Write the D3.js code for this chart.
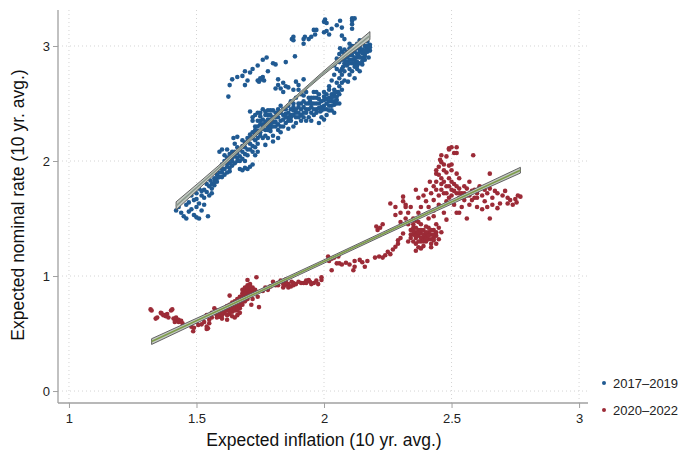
<!DOCTYPE html>
<html><head><meta charset="utf-8">
<script src="https://cdn.jsdelivr.net/npm/d3@7/dist/d3.min.js"></script>
<style>body{margin:0;background:#fff}svg{display:block}text{font-family:"Liberation Sans",Arial,sans-serif}</style>
</head><body><svg id="c" width="684" height="450"></svg>
<script>
const seriesNames = ["2017\u20132019", "2020\u20132022"];
const xTicks = [1, 1.5, 2, 2.5, 3];
const yTicks = [0, 1, 2, 3];
const xTickLabels = ["1", "1.5", "2", "2.5", "3"];
const yTickLabels = ["0", "1", "2", "3"];

const blue = [
[1.42,1.57],[1.43,1.6],[1.44,1.55],[1.45,1.52],[1.46,1.5],[1.47,1.56],[1.46,1.62],[1.48,1.58],[1.49,1.53],[1.5,1.51],[1.51,1.5],[1.5,1.6],[1.49,1.66],[1.51,1.63],[1.52,1.57],[1.53,1.62],[1.545,1.52],[1.52,1.7],[1.53,1.68],[1.54,1.73],[1.5,1.72],[1.51,1.76],[1.48,1.7],[1.55,1.78],[1.56,1.76],[1.54,1.8],[1.53,1.75],[1.555,1.83],[1.57,1.79],[1.55,1.7],[1.47,1.64],[1.5,1.67],[1.52,1.74],[1.56,1.72],[1.58,1.82],
[1.57,1.85],[1.58,1.88],[1.59,1.86],[1.6,1.9],[1.61,1.93],[1.6,1.97],[1.62,1.95],[1.63,1.91],[1.63,1.98],[1.64,2.0],[1.62,2.03],[1.59,2.08],[1.6,2.1],[1.62,2.1],[1.63,2.06],[1.65,2.04],[1.66,2.0],[1.67,1.93],[1.68,1.92],[1.69,1.94],[1.7,1.93],[1.71,1.95],[1.72,1.97],[1.67,2.04],[1.68,2.08],[1.66,2.12],[1.645,2.2],[1.66,2.21],[1.68,2.18],[1.69,2.12],[1.7,2.05],[1.71,2.1],[1.7,2.17],[1.72,2.13],[1.73,2.12],[1.74,2.15],[1.72,2.2],[1.71,2.23],[1.65,2.15],[1.64,2.08],[1.61,2.0],[1.66,2.07],[1.69,2.0],[1.73,2.05],[1.74,2.08],
[1.73,2.23],[1.74,2.26],[1.75,2.22],[1.76,2.28],[1.73,2.3],[1.75,2.32],[1.77,2.27],[1.78,2.3],[1.79,2.32],[1.76,2.36],[1.75,2.39],[1.71,2.43],[1.72,2.38],[1.74,2.42],[1.77,2.4],[1.78,2.36],[1.8,2.34],[1.81,2.3],[1.82,2.27],[1.83,2.25],[1.8,2.22],[1.78,2.2],[1.79,2.4],[1.81,2.38],[1.82,2.42],[1.83,2.35],[1.84,2.3],[1.85,2.33],[1.84,2.4],[1.85,2.45],[1.83,2.48],[1.82,2.45],[1.86,2.38],[1.87,2.35],[1.86,2.28],[1.79,2.26],[1.76,2.2],[1.77,2.14],[1.8,2.17],[1.82,2.2],[1.74,2.35],[1.76,2.45],[1.8,2.44],[1.78,2.44],
[1.87,2.4],[1.88,2.44],[1.89,2.42],[1.88,2.5],[1.9,2.47],[1.91,2.5],[1.9,2.38],[1.92,2.42],[1.93,2.45],[1.92,2.52],[1.94,2.5],[1.945,2.52],[1.92,2.57],[1.93,2.6],[1.95,2.55],[1.96,2.4],[1.97,2.45],[1.95,2.47],[1.96,2.5],[1.98,2.5],[1.985,2.43],[1.99,2.47],[1.97,2.55],[1.98,2.58],[2.0,2.53],[2.0,2.6],[1.99,2.38],[1.95,2.35],[1.94,2.38],[1.91,2.35],[1.89,2.33],[1.88,2.3],[1.86,2.48],[1.87,2.52],[1.89,2.55],[1.91,2.58],[1.9,2.62],[1.96,2.6],[1.93,2.35],[2.0,2.45],[2.01,2.4],[2.02,2.48],[2.01,2.54],[2.0,2.36],[1.98,2.33],[1.97,2.6],
[2.01,2.5],[2.02,2.55],[2.03,2.52],[2.04,2.49],[2.03,2.58],[2.04,2.56],[2.05,2.53],[2.02,2.62],[2.04,2.62],[2.05,2.6],[2.056,2.6],[2.06,2.58],[2.02,2.65],[2.03,2.7],[2.05,2.68],[2.06,2.72],[2.063,2.78],[2.07,2.75],[2.075,2.82],[2.05,2.8],[2.04,2.75],[2.05,2.89],[2.06,2.86],[2.08,2.85],[2.09,2.83],[2.09,2.9],[2.08,2.93],[2.063,2.98],[2.07,2.95],[2.1,2.88],[2.1,2.95],[2.094,2.69],[2.1,2.75],[2.1,2.8],[2.03,2.44],[2.04,2.42],[2.06,2.5],[2.07,2.62],[2.08,2.7],[2.07,2.88],[2.06,2.93],[2.04,2.83],
[2.11,2.85],[2.11,2.92],[2.12,2.88],[2.12,2.95],[2.13,2.9],[2.135,2.92],[2.13,2.98],[2.14,2.85],[2.14,2.95],[2.15,2.9],[2.15,2.97],[2.16,2.93],[2.16,3.0],[2.167,2.98],[2.17,2.95],[2.18,3.01],[2.18,2.96],[2.17,3.04],[2.15,3.03],[2.13,3.02],[2.12,3.0],[2.11,2.78],[2.12,2.82],[2.13,2.8],[2.14,2.78],[2.11,3.0],[2.1,3.02],[2.14,3.05],[2.16,2.88],[2.175,2.9],[2.12,2.72],[2.15,2.84],[2.13,2.86],
[1.625,2.56],[1.63,2.66],[1.64,2.71],[1.66,2.73],[1.68,2.74],[1.69,2.78],[1.71,2.77],[1.72,2.8],[1.74,2.83],[1.76,2.88],[1.775,2.9],[1.78,2.78],[1.69,2.66],[1.7,2.7],[1.74,2.7],[1.75,2.72],[1.76,2.73],[1.745,2.69],[1.755,2.71],[1.765,2.7],[1.8,2.85],[1.81,2.84],[1.85,2.86],[1.886,2.91],[1.81,2.63],[1.82,2.66],[1.83,2.63],[1.84,2.68],[1.85,2.65],[1.82,2.71],[1.84,2.6],[1.86,2.64],[1.88,2.62],[1.89,2.69],[1.92,2.71],[1.9,2.66],[1.874,3.06],[1.88,3.05],[1.88,3.08],[1.92,3.06],[1.925,3.08],[1.92,3.02],[1.94,3.06],[1.96,3.14],[1.965,3.1],[1.97,3.14],[2.0,3.12],[2.01,3.13],[2.02,3.1],[2.0,3.21],[2.004,3.23],[2.01,3.2],[2.05,3.18],[2.063,3.22],[2.07,3.16],[2.07,3.09],[2.08,3.06],[2.11,3.24],[2.11,3.22],[2.11,3.19],[2.11,3.15],[2.12,3.24],[1.95,3.08],[2.03,3.15],
[1.56,1.8],[1.57,1.82],[1.58,1.85],[1.59,1.9],[1.6,1.86],[1.61,1.88],[1.6,1.93],[1.62,1.9],[1.62,1.98],[1.63,1.94],[1.64,1.96],[1.64,2.03],[1.65,1.98],[1.65,2.08],[1.63,2.02],[1.61,2.05],
[1.66,2.03],[1.67,2.0],[1.67,2.1],[1.68,2.02],[1.68,2.13],[1.69,2.06],[1.69,2.16],[1.7,2.1],[1.7,2.2],[1.71,2.15],[1.71,2.2],[1.72,2.08],[1.72,2.25],[1.73,2.18],[1.73,2.27],[1.74,2.2],[1.74,2.3],[1.75,2.25],[1.75,2.35],[1.76,2.3],[1.72,2.35],[1.73,2.4],[1.75,2.42],
[1.76,2.32],[1.77,2.34],[1.77,2.22],[1.78,2.27],[1.78,2.4],[1.79,2.29],[1.79,2.36],[1.8,2.3],[1.8,2.38],[1.81,2.34],[1.81,2.42],[1.82,2.32],[1.82,2.38],[1.83,2.3],[1.83,2.42],[1.84,2.36],[1.84,2.45],[1.85,2.38],[1.85,2.41],[1.79,2.44],[1.77,2.43],
[1.86,2.42],[1.86,2.35],[1.87,2.45],[1.87,2.38],[1.88,2.4],[1.88,2.47],[1.89,2.45],[1.89,2.38],[1.9,2.42],[1.9,2.5],[1.91,2.45],[1.91,2.4],[1.92,2.47],[1.92,2.38],[1.93,2.5],[1.93,2.42],[1.94,2.45],[1.94,2.55],[1.95,2.42],[1.95,2.5],
[1.96,2.45],[1.96,2.55],[1.97,2.5],[1.97,2.42],[1.98,2.46],[1.98,2.54],[1.99,2.52],[1.99,2.44],[2.0,2.48],[2.0,2.56],[2.01,2.45],[2.01,2.58],[2.02,2.52],[2.02,2.44],[2.03,2.55],[2.03,2.48],[2.04,2.52],[2.04,2.59],[2.05,2.56],[2.05,2.5],
[2.06,2.65],[2.07,2.68],[2.07,2.8],[2.08,2.78],[2.08,2.88],[2.09,2.86],[2.09,2.95],[2.1,2.85],[2.1,2.92],[2.11,2.88],[2.11,2.95],[2.12,2.9],[2.12,2.85],[2.13,2.93],[2.13,2.83],[2.14,2.9],[2.14,2.98],[2.15,2.94],[2.15,2.87],[2.16,2.96],[2.16,2.91],[2.17,2.98],[2.17,3.0],[2.18,2.99],[2.12,2.97],[2.14,3.0],[2.1,2.98],[2.08,2.97]
];

const red = [
[1.32,0.71],[1.324,0.7],[1.34,0.63],[1.346,0.64],[1.36,0.68],[1.363,0.675],[1.37,0.66],[1.376,0.66],[1.38,0.65],[1.385,0.67],[1.39,0.64],[1.4,0.7],[1.405,0.71],[1.41,0.63],[1.42,0.62],[1.42,0.64],[1.43,0.6],[1.44,0.61],[1.445,0.59],[1.43,0.62],[1.415,0.6],
[1.48,0.56],[1.487,0.52],[1.49,0.55],[1.5,0.6],[1.507,0.574],[1.52,0.58],[1.53,0.6],[1.54,0.56],[1.54,0.54],[1.545,0.545],[1.55,0.59],[1.55,0.62],[1.54,0.66],[1.56,0.64],[1.57,0.68],[1.58,0.66],[1.59,0.646],[1.58,0.7],[1.6,0.7],[1.6,0.66],[1.56,0.68],[1.57,0.72],
[1.61,0.68],[1.61,0.72],[1.62,0.66],[1.62,0.7],[1.62,0.74],[1.63,0.67],[1.63,0.71],[1.63,0.75],[1.64,0.69],[1.64,0.73],[1.64,0.77],[1.65,0.7],[1.65,0.74],[1.65,0.78],[1.66,0.7],[1.66,0.75],[1.66,0.8],[1.67,0.72],[1.67,0.77],[1.67,0.82],[1.68,0.75],[1.68,0.8],[1.68,0.85],[1.68,0.88],[1.69,0.83],[1.69,0.87],[1.69,0.9],[1.7,0.85],[1.7,0.88],[1.7,0.92],[1.7,0.965],[1.71,0.89],[1.71,0.93],[1.715,0.75],[1.72,0.86],[1.72,0.9],[1.73,0.88],[1.735,0.99],[1.74,0.82],[1.745,0.73],[1.63,0.83],[1.65,0.64],[1.6,0.63],[1.62,0.62],[1.64,0.65],[1.66,0.66],[1.67,0.68],[1.7,0.8],[1.72,0.8],[1.69,0.78],
[1.61,0.7],[1.62,0.72],[1.63,0.69],[1.63,0.73],[1.64,0.71],[1.64,0.75],[1.65,0.72],[1.65,0.76],[1.66,0.72],[1.66,0.78],[1.67,0.74],[1.67,0.8],[1.68,0.78],[1.68,0.83],[1.69,0.85],[1.69,0.8],[1.7,0.82],[1.7,0.9],[1.71,0.86],[1.71,0.91],[1.72,0.88],[1.6,0.68],[1.59,0.68],[1.58,0.64],
[1.76,0.87],[1.77,0.9],[1.78,0.88],[1.79,0.91],[1.8,0.95],[1.81,0.92],[1.82,0.94],[1.83,0.96],[1.84,0.9],[1.847,0.92],[1.85,0.95],[1.86,0.9],[1.86,0.93],[1.873,0.95],[1.88,0.92],[1.89,0.93],[1.9,0.95],[1.91,0.94],[1.92,0.94],[1.93,0.96],[1.94,0.965],[1.945,0.95],[1.95,0.93],[1.96,0.94],[1.977,0.93],[1.99,0.965],[1.99,0.99],[1.85,0.97],[1.84,0.93],[1.87,0.91],[1.82,0.92],[1.88,0.94],[1.93,0.94],[1.97,0.96],
[2.016,1.17],[2.02,1.13],[2.03,1.05],[2.03,1.15],[2.04,1.16],[2.05,1.11],[2.056,1.17],[2.06,1.11],[2.07,1.1],[2.086,1.115],[2.1,1.1],[2.115,1.05],[2.12,1.08],[2.12,1.13],[2.14,1.14],[2.15,1.12],[2.16,1.08],[2.17,1.13],[2.2,1.16],[2.216,1.17],[2.23,1.16],[2.24,1.18],[2.25,1.21],[2.26,1.19],[2.27,1.23],[2.28,1.255],[2.29,1.28],[2.29,1.31],[2.205,1.43],[2.21,1.4],[2.23,1.45],[2.22,1.42],[2.3,1.33],
[2.26,1.63],[2.28,1.6],[2.31,1.65],[2.3,1.55],[2.32,1.5],[2.33,1.45],[2.34,1.4],[2.34,1.33],[2.35,1.36],[2.35,1.3],[2.35,1.42],[2.36,1.38],[2.36,1.33],[2.36,1.28],[2.37,1.35],[2.37,1.4],[2.37,1.25],[2.38,1.3],[2.38,1.37],[2.38,1.45],[2.39,1.33],[2.39,1.4],[2.39,1.26],[2.4,1.35],[2.4,1.3],[2.4,1.43],[2.41,1.38],[2.41,1.32],[2.42,1.36],[2.42,1.28],[2.43,1.33],[2.43,1.4],[2.44,1.35],[2.44,1.45],[2.45,1.42],[2.33,1.55],[2.35,1.5],[2.34,1.6],[2.36,1.48],[2.37,1.55],[2.38,1.6],[2.32,1.6],[2.3,1.47],[2.31,1.37],[2.33,1.3],[2.36,1.22],[2.38,1.24],[2.42,1.25],[2.45,1.32],[2.46,1.38],[2.44,1.28],[2.28,1.53],[2.31,1.69],[2.32,1.62],[2.36,1.75],[2.37,1.68],[2.43,1.31],
[2.34,1.36],[2.35,1.39],[2.36,1.35],[2.36,1.42],[2.37,1.3],[2.37,1.38],[2.38,1.33],[2.38,1.4],[2.39,1.36],[2.39,1.3],[2.4,1.38],[2.4,1.33],[2.41,1.35],[2.41,1.42],[2.42,1.32],[2.42,1.4],[2.43,1.36],[2.44,1.38],[2.35,1.45],[2.37,1.47],
[2.39,1.7],[2.4,1.75],[2.4,1.65],[2.41,1.6],[2.42,1.72],[2.415,1.82],[2.44,1.92],[2.43,1.66],[2.43,1.57],[2.44,1.89],[2.44,1.75],[2.45,1.62],[2.45,1.7],[2.46,1.8],[2.46,1.85],[2.455,2.01],[2.46,1.99],[2.48,2.04],[2.46,2.05],[2.47,1.97],[2.47,1.72],[2.48,1.78],[2.48,1.65],[2.49,1.96],[2.49,2.11],[2.49,2.1],[2.49,1.85],[2.5,2.12],[2.52,2.12],[2.52,2.07],[2.5,1.7],[2.5,1.75],[2.51,2.07],[2.51,1.8],[2.51,1.62],[2.52,1.89],[2.52,1.72],[2.52,1.55],[2.53,1.68],[2.53,1.76],[2.54,1.6],[2.54,1.72],[2.55,1.66],[2.55,1.78],[2.56,1.5],[2.56,1.7],[2.57,1.62],[2.585,2.05],[2.58,1.74],[2.59,1.68],[2.6,1.6],[2.6,1.72],[2.41,1.5],[2.43,1.52],[2.47,1.55],[2.48,1.9],[2.45,1.95],[2.5,1.92],[2.5,1.97],[2.53,1.85],[2.57,1.82],[2.48,1.49],[2.53,1.55],
[2.46,1.75],[2.47,1.82],[2.48,1.72],[2.49,1.78],[2.49,1.68],[2.5,1.82],[2.51,1.74],[2.52,1.78],[2.53,1.72],[2.54,1.68],[2.55,1.72],[2.56,1.76],[2.57,1.7],[2.58,1.66],[2.59,1.75],[2.6,1.68],[2.45,1.88],[2.47,1.92],[2.44,1.82],[2.43,1.78],
[2.61,1.78],[2.62,1.58],[2.62,1.7],[2.63,1.65],[2.63,1.75],[2.64,1.72],[2.65,1.89],[2.65,1.76],[2.65,1.5],[2.66,1.68],[2.67,1.74],[2.68,1.72],[2.68,1.59],[2.69,1.63],[2.7,1.7],[2.71,1.74],[2.72,1.68],[2.72,1.63],[2.73,1.66],[2.74,1.62],[2.75,1.67],[2.755,1.64],[2.77,1.69],[2.76,1.7],[2.66,1.62],[2.64,1.6]
];

// fitted lines with confidence bands: [x, lower, fit, upper]
const fitBlue = [[1.42,1.575,1.61,1.645],[1.61,1.965,1.985,2.005],[1.8,2.355,2.37,2.385],[1.99,2.735,2.75,2.765],[2.18,3.055,3.09,3.125]];
const fitRed = [[1.324,0.405,0.43,0.455],[1.69,0.79,0.807,0.824],[2.05,1.163,1.178,1.193],[2.41,1.535,1.552,1.569],[2.77,1.895,1.92,1.945]];

const svg = d3.select("#c");
const L = 58, R = 588, T = 10, B = 403;
const x = d3.scaleLinear().domain([0.957, 3.035]).range([L, R]);
const y = d3.scaleLinear().domain([-0.104, 3.313]).range([B, T]);

// grid
const g = svg.append("g");
g.selectAll("line.gy").data(yTicks).join("line")
  .attr("x1", L).attr("x2", R).attr("y1", d => y(d)).attr("y2", d => y(d))
  .attr("stroke", "#d4d4d4").attr("stroke-width", 1).attr("stroke-dasharray", "1,3");
g.selectAll("line.gx").data(xTicks).join("line")
  .attr("y1", T).attr("y2", B).attr("x1", d => x(d)).attr("x2", d => x(d))
  .attr("stroke", "#d4d4d4").attr("stroke-width", 1).attr("stroke-dasharray", "1,3");

// axes
const xAxis = d3.axisBottom(x).tickValues(xTicks).tickFormat((d, i) => xTickLabels[i]).tickSize(5).tickSizeOuter(0);
const yAxis = d3.axisLeft(y).tickValues(yTicks).tickFormat((d, i) => yTickLabels[i]).tickSize(5).tickSizeOuter(0);
const ax = svg.append("g").attr("transform", `translate(0,${B})`).call(xAxis);
const ay = svg.append("g").attr("transform", `translate(${L},0)`).call(yAxis);
[ax, ay].forEach(a => {
  a.select(".domain").attr("stroke", "#a0a0a0").attr("stroke-width", 1.3);
  a.selectAll(".tick line").attr("stroke", "#a0a0a0");
  a.selectAll(".tick text").attr("fill", "#222").attr("font-size", 13).attr("font-family", "Liberation Sans, Arial, sans-serif");
});
ax.select(".domain").attr("d", `M${L},0H${R}`);
ay.select(".domain").attr("d", `M0,${T}V${B}`);
ax.selectAll(".tick text").attr("dy", "0.95em");

// scatter
const dots = svg.append("g");
dots.selectAll("circle.b").data(blue).join("circle")
  .attr("cx", d => x(d[0])).attr("cy", d => y(d[1])).attr("r", 2.3).attr("fill", "#205a92");
dots.selectAll("circle.r").data(red).join("circle")
  .attr("cx", d => x(d[0])).attr("cy", d => y(d[1])).attr("r", 2.3).attr("fill", "#9c2b37");

// fit bands
function drawFit(data, lineColor) {
  const area = d3.area().x(d => x(d[0])).y0(d => y(d[1])).y1(d => y(d[3])).curve(d3.curveMonotoneX);
  svg.append("path").datum(data).attr("d", area)
    .attr("fill", "#c3c9c3").attr("stroke", "#555").attr("stroke-width", 0.9);
  const ln = d3.line().x(d => x(d[0])).y(d => y(d[2]));
  svg.append("path").datum(data).attr("d", ln)
    .attr("fill", "none").attr("stroke", lineColor).attr("stroke-width", 1.6);
}
drawFit(fitBlue, "#8a988c");
drawFit(fitRed, "#7d9c4a");

// legend
const colors = ["#205a92", "#9c2b37"];
const leg = svg.append("g");
seriesNames.forEach((n, i) => {
  leg.append("circle").attr("cx", 604).attr("cy", 383 + i * 27).attr("r", 2).attr("fill", colors[i]);
  leg.append("text").attr("x", 613).attr("y", 387.5 + i * 27).attr("font-size", 13).attr("fill", "#222").text(n);
});

// titles
svg.append("text").attr("x", 324).attr("y", 446).attr("text-anchor", "middle")
  .attr("font-size", 17.5).attr("fill", "#111").text("Expected inflation (10 yr. avg.)");
svg.append("text").attr("transform", "translate(24,205) rotate(-90)").attr("text-anchor", "middle")
  .attr("font-size", 17.5).attr("fill", "#111").text("Expected nominal rate (10 yr. avg.)");
</script></body></html>
